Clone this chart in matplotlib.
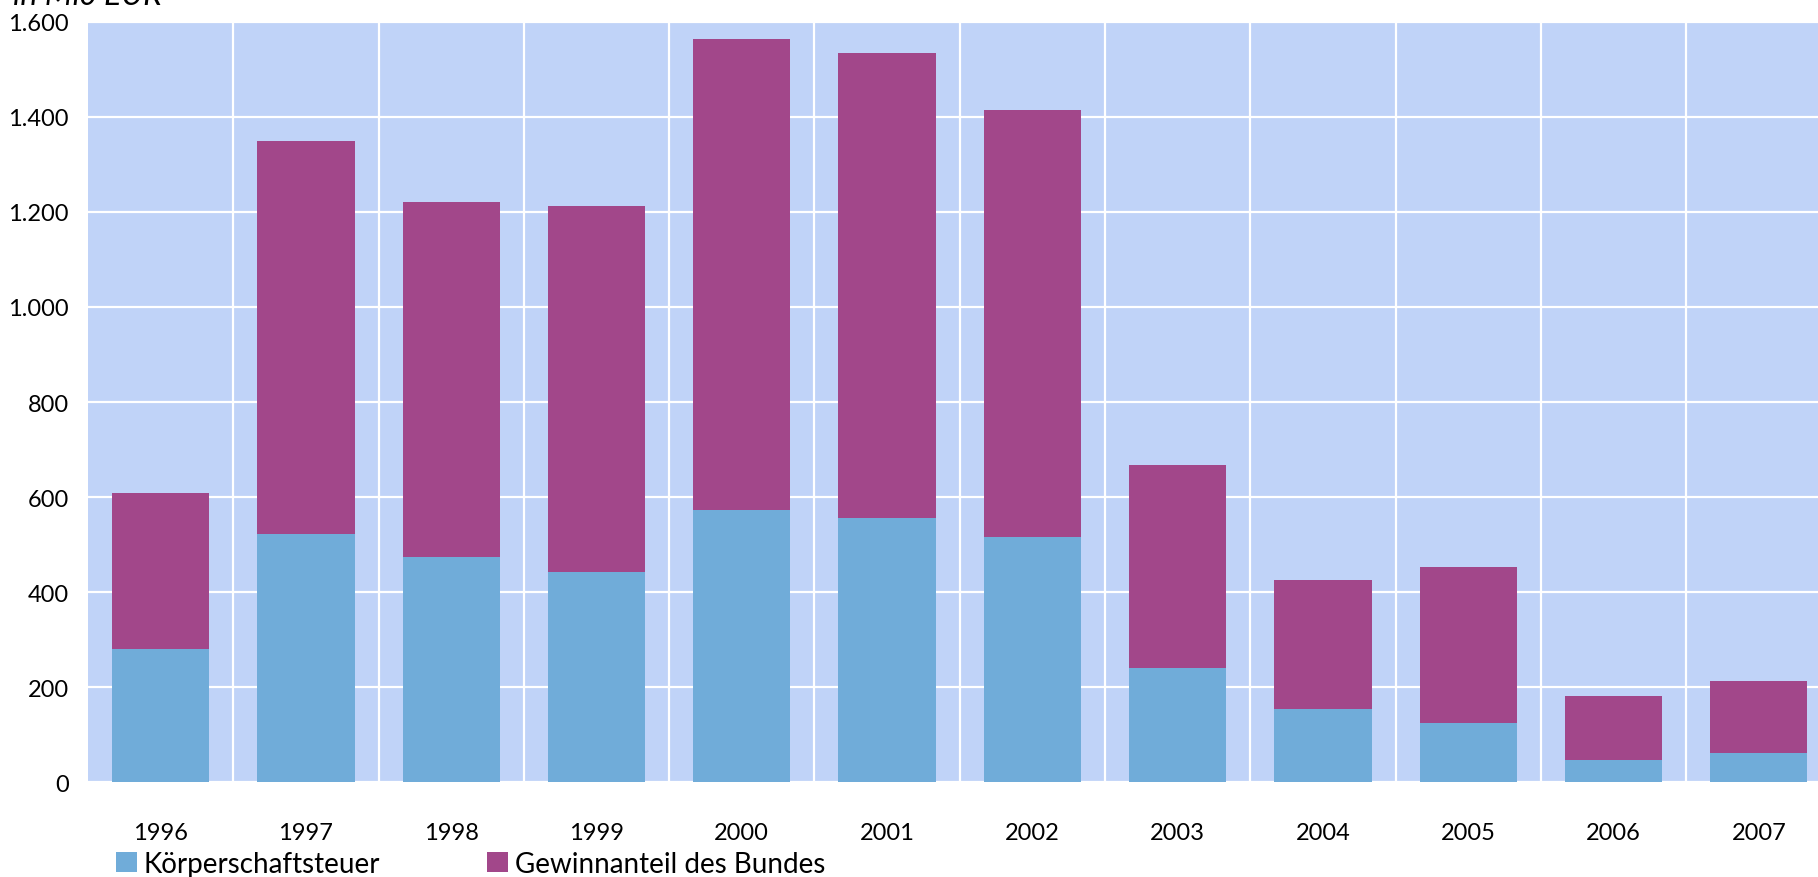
import numpy as np
import matplotlib
matplotlib.use("Agg")
import matplotlib.pyplot as plt
from matplotlib.ticker import FuncFormatter, FixedLocator

plt.rcParams['font.family'] = ['Liberation Sans Narrow', 'Lato', 'DejaVu Sans']

# data (Mio EUR)
years = ['1996', '1997', '1998', '1999', '2000', '2001',
         '2002', '2003', '2004', '2005', '2006', '2007']
koerperschaftsteuer = [281, 522, 474, 443, 572, 555, 516, 241, 153, 125, 47, 62]
gewinnanteil = [327, 827, 746, 770, 991, 979, 899, 426, 273, 328, 134, 151]

BG = '#c0d3f8'
BLUE = '#70acd9'
PURPLE = '#a2478a'


def thousands(v, pos):
    return f'{int(v):,}'.replace(',', '.')


def main():
    fig = plt.figure(figsize=(18.18, 8.78), dpi=100)
    ax = fig.add_axes([0.0484, 0.108, 0.959, 0.866])
    ax.set_facecolor(BG)

    x = np.arange(len(years))
    ax.bar(x, koerperschaftsteuer, width=0.67, color=BLUE,
           label='Körperschaftsteuer', zorder=3)
    ax.bar(x, gewinnanteil, width=0.67, bottom=koerperschaftsteuer,
           color=PURPLE, label='Gewinnanteil des Bundes', zorder=3)

    ax.set_xlim(-0.5, len(years) - 0.5)
    ax.set_ylim(0, 1600)
    ax.set_yticks(np.arange(0, 1601, 200))
    ax.yaxis.set_major_formatter(FuncFormatter(thousands))
    ax.set_xticks(x)
    ax.set_xticklabels(years)
    ax.xaxis.set_minor_locator(FixedLocator(x[:-1] + 0.5))

    ax.grid(axis='y', which='major', color='white', linewidth=1.6)
    ax.grid(axis='x', which='minor', color='white', linewidth=1.6)
    ax.grid(axis='x', which='major', visible=False)
    ax.set_axisbelow(True)

    for s in ax.spines.values():
        s.set_visible(False)
    ax.tick_params(axis='both', which='both', length=0, labelsize=17)
    ax.tick_params(axis='y', pad=14)
    ax.tick_params(axis='x', pad=29)

    # axis unit label, partly cut off at the top like in the original
    fig.text(0.007, 0.9943, 'in Mio EUR', fontsize=23, style='italic',
             ha='left', va='baseline')

    fig.legend(loc='center left', bbox_to_anchor=(0.05, 0.015), ncol=2,
               frameon=False, fontsize=20, handlelength=0.75,
               handleheight=0.75, handletextpad=0.25, columnspacing=3.85)

    fig.savefig('out.png', dpi=100)


if __name__ == '__main__':
    main()
